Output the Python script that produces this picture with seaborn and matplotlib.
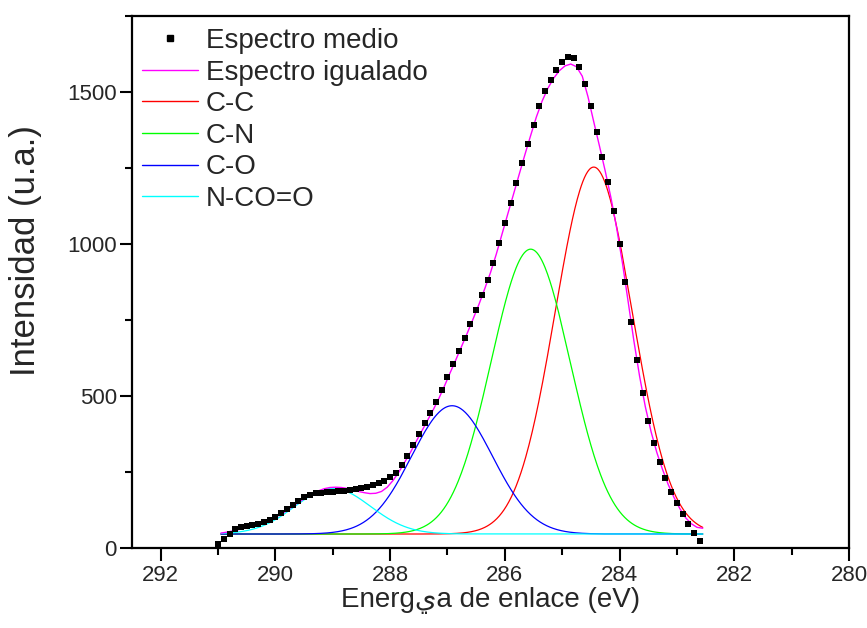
import numpy as np
import pandas as pd
import matplotlib
matplotlib.use("Agg")
import matplotlib.pyplot as plt
from matplotlib.ticker import MultipleLocator
from matplotlib.lines import Line2D
import seaborn as sns

# Measured C 1s spectrum, sampled every 0.1 eV starting at 291.0 eV
intensity = [13, 30, 46, 64, 70, 72, 76, 79, 84, 92,
             103, 116, 129, 142, 156, 167, 175, 180, 182, 183,
             184, 186, 189, 192, 195, 198, 202, 206, 213, 221,
             232, 248, 273, 303, 339, 375, 410, 444, 480, 521,
             563, 606, 649, 692, 737, 782, 831, 883, 938, 1003,
             1069, 1135, 1200, 1266, 1330, 1393, 1453, 1502, 1541, 1573,
             1598, 1616, 1613, 1583, 1527, 1453, 1369, 1287, 1203, 1109,
             1000, 876, 743, 618, 509, 419, 344, 284, 231, 185,
             147, 112, 79, 50, 22]
energy = np.round(291.0 - 0.1 * np.arange(len(intensity)), 1)

# Fitted envelope, tabulated every 0.1 eV from 290.95 eV
fitted = [49, 52, 56, 60, 65, 70, 75, 81, 88, 96,
          106, 117, 130, 143, 156, 168, 179, 188, 195, 199,
          200, 199, 196, 191, 186, 182, 179, 180, 186, 200,
          222, 249, 281, 313, 349, 384, 419, 454, 492, 534,
          578, 621, 665, 709, 755, 802, 853, 906, 966, 1032,
          1098, 1163, 1229, 1294, 1357, 1418, 1470, 1512, 1545, 1570,
          1586, 1592, 1583, 1552, 1484, 1402, 1322, 1240, 1152, 1052,
          938, 810, 681, 564, 464, 382, 314, 258, 208, 166,
          130, 100, 80, 68, 65]
fit_energy = np.round(290.95 - 0.1 * np.arange(len(fitted)), 2)

# Gaussian components (center eV, height, FWHM eV) over a flat background
components = ["C-C", "C-N", "C-O", "N-CO=O"]
centers = [284.45, 285.55, 286.92, 289.0]
heights = [1207, 937, 422, 150]
fwhm = [1.58, 1.62, 1.66, 1.55]
background = 46

comp_colors = ["#FF0000", "#00FF00", "#0000FF", "#00FFFF"]
fit_color = "#FF00FF"

sns.set_theme(style="ticks")
plt.rcParams["font.family"] = ["Liberation Sans", "DejaVu Sans"]
fam = ["Liberation Sans", "DejaVu Sans"]

fig = plt.figure(figsize=(8.67, 6.28), dpi=100)
ax = fig.add_axes([132 / 867, 1 - 548 / 628, (849 - 132) / 867, (548 - 16) / 628])

xg = np.linspace(fit_energy[0], fit_energy[-1], 600)
curves = {}
for name, c, h, w in zip(components, centers, heights, fwhm):
    s = w / (2 * np.sqrt(2 * np.log(2)))
    curves[name] = background + h * np.exp(-(xg - c) ** 2 / (2 * s ** 2))
comp_df = pd.DataFrame({"energy": xg, **curves})

for name, col in zip(components, comp_colors):
    sns.lineplot(data=comp_df, x="energy", y=name, color=col, lw=0.9, ax=ax)

fit_df = pd.DataFrame({"energy": fit_energy, "fitted": fitted})
sns.lineplot(data=fit_df, x="energy", y="fitted", color=fit_color, lw=1.0, ax=ax)

pts = pd.DataFrame({"energy": energy, "intensity": intensity})
sns.scatterplot(data=pts, x="energy", y="intensity", marker="s", s=22,
                color="black", linewidth=0, ax=ax, zorder=5)

ax.set_xlim(292.5, 280)
ax.set_ylim(0, 1750)
ax.xaxis.set_major_locator(MultipleLocator(2))
ax.xaxis.set_minor_locator(MultipleLocator(1))
ax.yaxis.set_major_locator(MultipleLocator(500))
ax.yaxis.set_minor_locator(MultipleLocator(250))
ax.tick_params(which="major", direction="out", length=9, width=1.5, color="black")
ax.tick_params(which="minor", direction="out", length=5, width=1.5, color="black")
ax.tick_params(axis="x", pad=3)
ax.tick_params(axis="y", pad=2)
for sp in ax.spines.values():
    sp.set_linewidth(1.6)
    sp.set_color("black")

for lab in ax.get_xticklabels():
    lab.set_fontfamily(fam)
    lab.set_fontsize(16)
for lab in ax.get_yticklabels():
    lab.set_fontfamily(fam)
    lab.set_fontsize(16)

ax.set_xlabel("Energيa de enlace (eV)", fontsize=20, family=fam, labelpad=1)
ax.set_ylabel("Intensidad (u.a.)", fontsize=25, family=fam)
ax.yaxis.set_label_coords(-0.126, 0.56)

handles = [Line2D([], [], ls="none", marker="s", ms=5, color="black")]
handles += [Line2D([], [], color=fit_color, lw=1.0)]
handles += [Line2D([], [], color=c, lw=1.0) for c in comp_colors]
labels = ["Espectro medio", "Espectro igualado"] + components
fig.legend(handles, labels, loc="upper left", bbox_to_anchor=(142 / 867, 1 - 28 / 628),
           frameon=False, borderpad=0, borderaxespad=0, handlelength=2.0,
           handletextpad=0.29, labelspacing=0.2,
           prop={"family": fam, "size": 20})

fig.savefig("out.png", dpi=100, facecolor="white")
